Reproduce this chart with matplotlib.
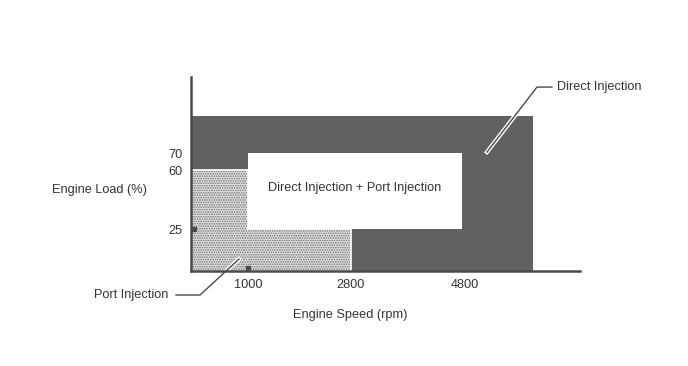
import matplotlib.pyplot as plt
from matplotlib.patches import Rectangle, Polygon
import matplotlib.patheffects as pe

plt.rcParams['font.family'] = ['Liberation Sans', 'DejaVu Sans']

# regions (engine speed rpm, engine load %)
di_speed = [0, 6000]
di_load = [0, 92]
mixed_speed = [1000, 4750]
mixed_load = [25, 70]
port_low_speed = 2800
port_low_load = 25
port_high_speed = 1000
port_high_load = 60

x_ticks = [1000, 2800, 4800]
y_ticks = [25, 60, 70]

ink = '#4a4a4a'
dark = '#616161'

fig = plt.figure(figsize=(6.88, 3.66), dpi=100)
ax = fig.add_axes([191/688, 95/366, 389/688, 194/366])
ax.set_xlim(0, 6825)
ax.set_ylim(0, 115.5)

# direct injection block
ax.add_patch(Rectangle((di_speed[0], di_load[0]), di_speed[1] - di_speed[0],
                       di_load[1] - di_load[0], facecolor=dark, edgecolor='none'))

# port injection L shape, stippled
plt.rcParams['hatch.linewidth'] = 0.8
port_pts = [(0, 0), (port_low_speed, 0), (port_low_speed, port_low_load),
            (port_high_speed, port_low_load), (port_high_speed, port_high_load),
            (0, port_high_load)]
ax.add_patch(Polygon(port_pts, closed=True, facecolor='#e4e4e4', edgecolor='#6a6a6a',
                     hatch='.......', linewidth=0))
ax.add_patch(Polygon(port_pts, closed=True, facecolor='none', edgecolor='white',
                     linewidth=1.2))

# mixed block
ax.add_patch(Rectangle((mixed_speed[0], mixed_load[0]), mixed_speed[1] - mixed_speed[0],
                       mixed_load[1] - mixed_load[0], facecolor='white', edgecolor='none'))
ax.text((mixed_speed[0] + mixed_speed[1]) / 2, 49.5, 'Direct Injection + Port Injection',
        ha='center', va='center', fontsize=9.2, color='#333333')

# leader lines
stroke = [pe.Stroke(linewidth=3, foreground='white'), pe.Normal()]
ax.plot([6333, 6070, 5193], [109.5, 109.5, 70.8], color=ink, lw=1,
        clip_on=False, path_effects=stroke)
ax.text(6421, 109.5, 'Direct Injection', ha='left', va='center', fontsize=9.2,
        color='#333333', clip_on=False)
ax.plot([-263, 158, 842], [-14.3, -14.3, 7.1], color=ink, lw=1,
        clip_on=False, path_effects=stroke)
ax.text(-404, -14.3, 'Port Injection', ha='right', va='center', fontsize=9.2,
        color='#333333', clip_on=False)

# axes
for s in ['top', 'right']:
    ax.spines[s].set_visible(False)
for s in ['left', 'bottom']:
    ax.spines[s].set_color(ink)
    ax.spines[s].set_linewidth(1.8)
    ax.spines[s].set_zorder(5)
ax.set_xticks(x_ticks)
ax.set_yticks(y_ticks)
ax.tick_params(length=0, labelcolor='#333333', labelsize=9.2)
ax.tick_params(axis='x', pad=6)
ax.tick_params(axis='y', pad=6)
# small tick nubs at 25 % and 1000 rpm
ax.plot([60], [25], marker='s', ms=2.5, color=ink, clip_on=False, zorder=6)
ax.plot([1000], [1.8], marker='s', ms=2.5, color=ink, clip_on=False, zorder=6)

fig.text(147/688, 1 - 190/366, 'Engine Load (%)', ha='right', va='center',
         fontsize=9.2, color='#333333')
ax.set_xlabel('Engine Speed (rpm)', fontsize=9.2, color='#333333')
ax.xaxis.set_label_coords((350 - 191) / 389, -(315 - 271) / 194)
ax.xaxis.label.set_va('center')

fig.savefig('out.png', dpi=100)
